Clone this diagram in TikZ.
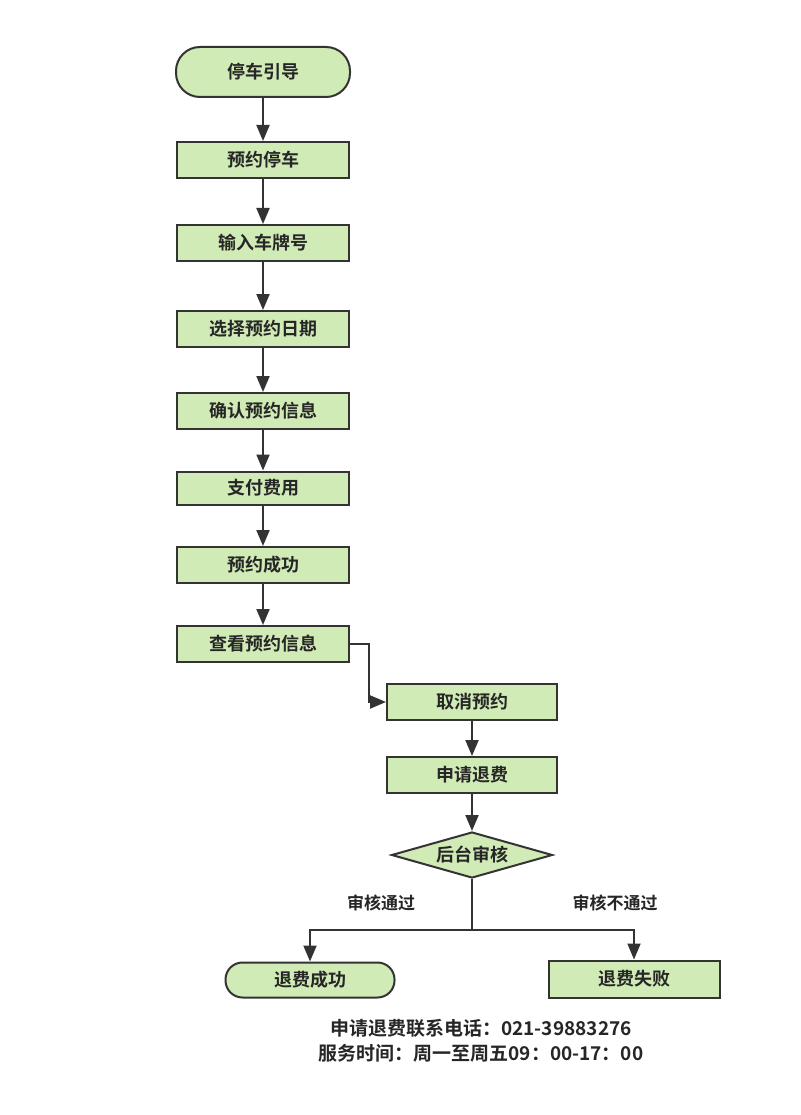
\documentclass[tikz,border=0pt]{standalone}
\usepackage{fontspec}
\newfontfamily\cjk{Noto Sans CJK SC}[BoldFont={* Bold}]
\usetikzlibrary{arrows.meta,shapes.geometric}
\definecolor{boxfill}{HTML}{D1EBB6}
\definecolor{boxline}{HTML}{333333}
\begin{document}
\begin{tikzpicture}[x=1pt,y=-1pt,
  every node/.style={font=\cjk\bfseries\fontsize{18}{21}\selectfont, text=black!85},
  proc/.style={draw=boxline, line width=2pt, fill=boxfill, minimum width=172pt, minimum height=36pt, inner sep=0pt},
  term/.style={proc, rounded corners=17pt},
  dec/.style={draw=boxline, line width=2pt, fill=boxfill, diamond, aspect=3.5, minimum width=161pt, minimum height=46pt, inner sep=0pt},
  conn/.style={draw=boxline, line width=2pt, -{Triangle[length=16pt,width=13pt]}},
  lbl/.style={font=\cjk\bfseries\fontsize{17}{20}\selectfont},
]
\useasboundingbox[fill=white] (0,0) rectangle (800,1115);
\node[term, minimum height=50pt, minimum width=174pt, rounded corners=24pt] (n1) at (263,72) {停车引导};
\node[proc] (n2) at (263,160) {预约停车};
\node[proc] (n3) at (263,243) {输入车牌号};
\node[proc] (n4) at (263,329) {选择预约日期};
\node[proc] (n5) at (263,411) {确认预约信息};
\node[proc, minimum height=33pt] (n6) at (263,488) {支付费用};
\node[proc] (n7) at (263,565) {预约成功};
\node[proc] (n8) at (263,644) {查看预约信息};
\node[proc, minimum width=170pt] (n9) at (472,702) {取消预约};
\node[proc, minimum width=170pt] (n10) at (472,775) {申请退费};
\node[dec] (d) at (472,855) {后台审核};
\node[term, minimum width=169pt, minimum height=35pt] (ok) at (310,980) {退费成功};
\node[proc, minimum width=171pt, minimum height=37pt] (fail) at (634,979) {退费失败};
\coordinate (br) at (472,930);
\node[lbl] (l1) at (381,903) {审核通过};
\node[lbl] (l2) at (615,903) {审核不通过};
\draw[conn] (n1.south) -- (n2.north);
\draw[conn] (n2.south) -- (n3.north);
\draw[conn] (n3.south) -- (n4.north);
\draw[conn] (n4.south) -- (n5.north);
\draw[conn] (n5.south) -- (n6.north);
\draw[conn] (n6.south) -- (n7.north);
\draw[conn] (n7.south) -- (n8.north);
\draw[conn] (n8.east) -- ++(19,0) |- (n9.west);
\draw[conn] (n9.south) -- (n10.north);
\draw[conn] (n10.south) -- (d.north);
\draw[draw=boxline, line width=2pt] (d.south) -- (br);
\draw[conn] (br) -| (ok.north);
\draw[conn] (br) -| (fail.north);
\node[font=\cjk\bfseries\fontsize{19}{25}\selectfont, align=center] (info) at (481,1041) {申请退费联系电话：021-39883276\\服务时间：周一至周五09：00-17：00};
\end{tikzpicture}
\end{document}
